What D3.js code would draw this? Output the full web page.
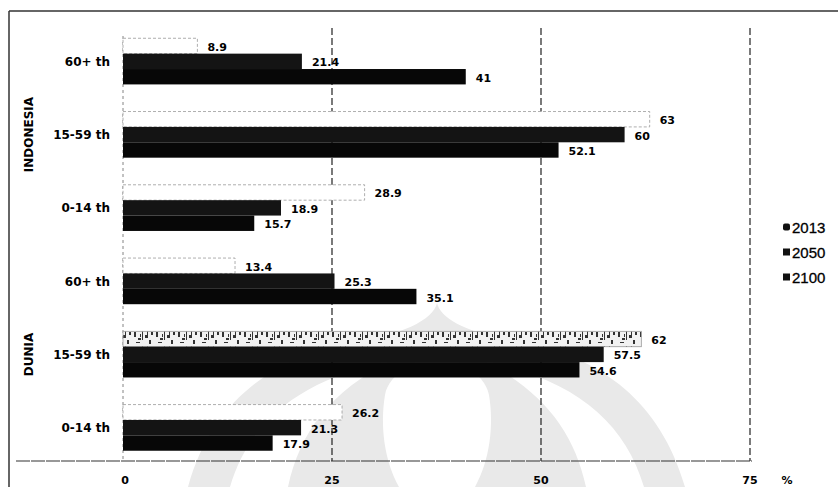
<!DOCTYPE html>
<html><head><meta charset="utf-8">
<script src="https://cdn.jsdelivr.net/npm/d3@7"></script>
<style>
html,body{margin:0;padding:0;background:#fff;}
svg{display:block;}
</style></head>
<body>
<svg id="chart" width="838" height="487"></svg>
<script>
// ---- data ----
const categories = ["60+ th", "15-59 th", "0-14 th", "60+ th", "15-59 th", "0-14 th"];
const regions = ["INDONESIA", "INDONESIA", "INDONESIA", "DUNIA", "DUNIA", "DUNIA"];
const seriesNames = ["2013", "2050", "2100"];
const values2013 = [8.9, 63, 28.9, 13.4, 62, 26.2];
const values2050 = [21.4, 60, 18.9, 25.3, 57.5, 21.3];
const values2100 = [41, 52.1, 15.7, 35.1, 54.6, 17.9];
const xTicks = [0, 25, 50, 75];
const unitLabel = "%";

// ---- setup ----
const svg = d3.select("#chart");
const W = 838, H = 487;
const plotTop = 28, plotBottom = 461;
const x = d3.scaleLinear().domain([0, 75]).range([123, 750]);
const keys = categories.map((c, i) => i);
const y = d3.scaleBand().domain(keys).range([plotTop, plotBottom]).paddingInner(0.37).paddingOuter(0.14);
const ys = d3.scaleBand().domain(seriesNames).range([0, y.bandwidth()]);
const seriesValues = [values2013, values2050, values2100];
const fills = {"2013": "#ffffff", "2050": "#141414", "2100": "#070707"};
const boldFont = "'DejaVu Sans', Verdana, sans-serif";

// ---- faint background watermark (decorative) ----
const wm = svg.append("g").attr("fill", "#e9e9e9");
wm.append("path").attr("d",
  "M437,303 C441,320 470,335 534,345 C600,360 660,400 685,487 L188,487 C212,400 274,360 340,345 C404,335 433,320 437,303 Z");
const wmw = svg.append("g").attr("fill", "#ffffff");
wmw.append("path").attr("d", "M230,487 C250,420 300,380 392,360 C330,392 300,432 288,487 Z");
wmw.append("path").attr("d", "M644,487 C624,420 574,380 482,360 C544,392 574,432 586,487 Z");
wmw.append("path").attr("d",
  "M437,352 C455,360 485,372 489,395 C494,425 490,460 475,487 L399,487 C384,460 380,425 385,395 C389,372 419,360 437,352 Z");

// texture pattern (scan-like speckle) for one 2013 bar
const defs = svg.append("defs");
const pat = defs.append("pattern").attr("id", "speckle").attr("patternUnits", "userSpaceOnUse")
  .attr("width", 22).attr("height", 15);
pat.append("rect").attr("width", 22).attr("height", 15).attr("fill", "#f2f2f2");
[[2,2,2,5],[6,8,3,2],[10,1,1,9],[13,5,3,3],[17,10,2,4],[19,2,2,3],[4,12,4,1],[8,4,1,3],[15,1,1,4]].forEach(r => {
  pat.append("rect").attr("x", r[0]).attr("y", r[1]).attr("width", r[2]).attr("height", r[3]).attr("fill", "#333");
});
const texturedIndex = 4;

// ---- frame ----
svg.append("line").attr("x1", 9).attr("x2", W).attr("y1", 11).attr("y2", 11)
  .attr("stroke", "#333").attr("stroke-width", 1.5);
svg.append("line").attr("x1", 9).attr("x2", 9).attr("y1", 11).attr("y2", H)
  .attr("stroke", "#333").attr("stroke-width", 1.5);

// ---- gridlines ----
svg.append("g").selectAll("line").data(xTicks.filter(t => t > 0)).join("line")
  .attr("x1", d => x(d)).attr("x2", d => x(d))
  .attr("y1", plotTop).attr("y2", plotBottom)
  .attr("stroke", "#222").attr("stroke-width", 1.2).attr("stroke-dasharray", "7,3");
svg.append("line").attr("x1", x(0)).attr("x2", x(0)).attr("y1", plotTop + 8).attr("y2", plotBottom)
  .attr("stroke", "#666").attr("stroke-width", 0.8).attr("stroke-dasharray", "3,3");

// axis line
svg.append("line").attr("x1", 16).attr("x2", x(75) + 2).attr("y1", plotBottom).attr("y2", plotBottom)
  .attr("stroke", "#333").attr("stroke-width", 1.2).attr("stroke-dasharray", "14,1");

// ---- bars ----
const barData = [];
keys.forEach(i => {
  seriesNames.forEach((s, j) => {
    barData.push({i, s, v: seriesValues[j][i]});
  });
});
svg.append("g").selectAll("rect").data(barData).join("rect")
  .attr("x", x(0))
  .attr("y", d => y(d.i) + ys(d.s))
  .attr("width", d => x(d.v) - x(0))
  .attr("height", ys.bandwidth())
  .attr("fill", d => (d.s === "2013" && d.i === texturedIndex) ? "url(#speckle)" : fills[d.s])
  .attr("stroke", d => d.s === "2013" ? "#999" : "none")
  .attr("stroke-width", 0.8)
  .attr("stroke-dasharray", d => d.s === "2013" && d.i !== texturedIndex ? "3,2" : null);

// value labels
svg.append("g").selectAll("text").data(barData).join("text")
  .attr("x", d => x(d.v) + 10)
  .attr("y", d => y(d.i) + ys(d.s) + ys.bandwidth() / 2 + 5)
  .attr("font-family", boldFont).attr("font-weight", "bold").attr("font-size", 11)
  .attr("fill", "#000")
  .text(d => d.v);

// category labels
svg.append("g").selectAll("text").data(keys).join("text")
  .attr("x", 110).attr("y", d => y(d) + y.bandwidth() / 2 + 4.5)
  .attr("text-anchor", "end")
  .attr("font-family", boldFont).attr("font-weight", "bold").attr("font-size", 12)
  .attr("fill", "#000")
  .text(d => categories[d]);

// region labels (rotated), centered on their middle category
const regionNames = Array.from(new Set(regions));
svg.append("g").selectAll("text").data(regionNames).join("text")
  .attr("transform", r => {
    const idx = keys.filter(k => regions[k] === r);
    const c = (y(idx[0]) + y(idx[idx.length - 1]) + y.bandwidth()) / 2;
    return `translate(33,${c}) rotate(-90)`;
  })
  .attr("text-anchor", "middle")
  .attr("font-family", boldFont).attr("font-weight", "bold").attr("font-size", 12)
  .attr("fill", "#000")
  .text(r => r);

// x tick labels
svg.append("g").selectAll("text").data(xTicks).join("text")
  .attr("x", d => x(d) + (d === 0 ? 2 : 0)).attr("y", 484)
  .attr("text-anchor", "middle")
  .attr("font-family", boldFont).attr("font-weight", "bold").attr("font-size", 11)
  .attr("fill", "#000")
  .text(d => d);
svg.append("text").attr("x", 787).attr("y", 484).attr("text-anchor", "middle")
  .attr("font-family", boldFont).attr("font-weight", "bold").attr("font-size", 11)
  .attr("fill", "#000").text(unitLabel);

// legend
const legend = svg.append("g").attr("transform", "translate(783,227)");
const lg = legend.selectAll("g").data(seriesNames).join("g")
  .attr("transform", (d, i) => `translate(0,${i * 25})`);
lg.append("rect").attr("x", 0).attr("y", -3.5).attr("width", 7).attr("height", 7)
  .attr("rx", (d, i) => i === 0 ? 2 : 0)
  .attr("fill", "#111");
lg.append("text").attr("x", 9).attr("y", 5.5)
  .attr("font-family", "'Liberation Sans', Arial, sans-serif").attr("font-size", 15)
  .attr("fill", "#000").attr("stroke", "#000").attr("stroke-width", 0.3)
  .text(d => d);
</script>
</body></html>
